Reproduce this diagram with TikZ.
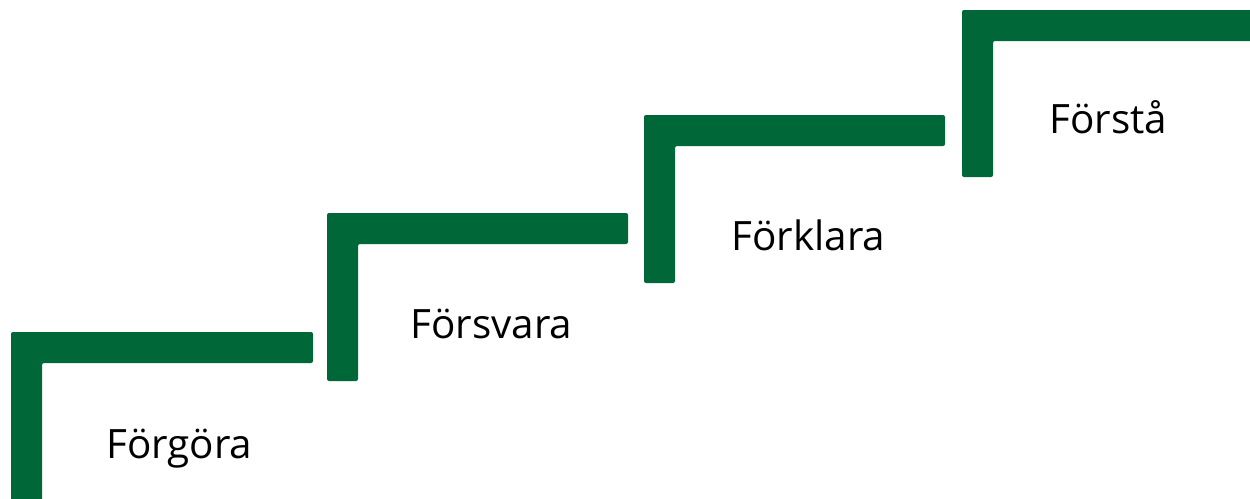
\documentclass[tikz,border=0pt]{standalone}
\usepackage{fontspec}
\setmainfont{Open Sans}
\definecolor{stepgreen}{HTML}{006838}
\begin{document}
\begin{tikzpicture}[x=0.02cm,y=-0.02cm,
  stair/.style={fill=stepgreen,draw=none,rounded corners=0.04cm},
  lbl/.style={anchor=base west,inner sep=0pt,font=\fontsize{23pt}{27pt}\selectfont,text=black}]
\path[use as bounding box,fill=white] (0,0) rectangle (1250,498);
\begin{scope}
\clip (0,0) rectangle (1250,498);
\fill[stair] (11,510) -- (11,332) -- (313,332) -- (313,363) -- (42,363) -- (42,510) -- cycle;
\fill[stair] (327,381) -- (327,213) -- (628,213) -- (628,244) -- (358,244) -- (358,381) -- cycle;
\fill[stair] (644,283) -- (644,115) -- (945,115) -- (945,146) -- (675,146) -- (675,283) -- cycle;
\fill[stair] (962,177) -- (962,10) -- (1265,10) -- (1265,41) -- (993,41) -- (993,177) -- cycle;
\end{scope}
\node[lbl] (s1) at (106,458) {Förgöra};
\node[lbl] (s2) at (410,338) {Försvara};
\node[lbl] (s3) at (731,250) {Förklara};
\node[lbl] (s4) at (1049,133) {Förstå};
\end{tikzpicture}
\end{document}
